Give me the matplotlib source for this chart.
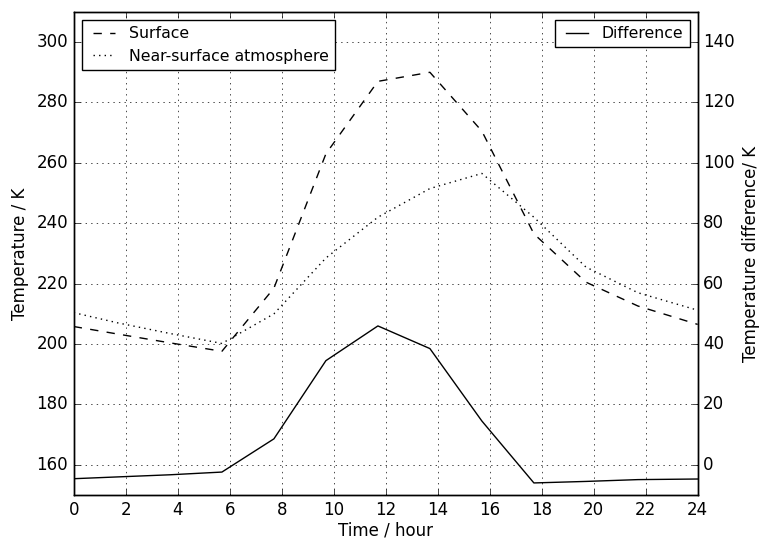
"""Surface and near-surface temperatures over one day, with their difference."""

import matplotlib
matplotlib.use("Agg")
import matplotlib.pyplot as plt

plt.style.use("classic")

# Values
hours = [0, 1.7, 3.7, 5.7, 7.7, 9.7, 11.7, 13.7, 15.7, 17.7, 19.7, 21.7, 24]
surface = [205.8, 203.3, 200.4, 197.6, 218.5, 263.0, 287.0, 290.0, 270.5, 236.5, 220.5, 212.6, 206.5]
atmosphere = [210.4, 207.0, 203.5, 200.2, 210.0, 228.5, 242.0, 251.5, 256.5, 242.0, 225.5, 217.0, 211.2]
difference = [-4.6, -4.0, -3.3, -2.4, 8.6, 34.5, 46.0, 38.5, 14.5, -6.0, -5.5, -4.9, -4.7]


def plot():
    """Create plot."""
    fig = plt.figure(figsize=(7.6, 5.41), dpi=100, facecolor="white")
    ax = fig.add_axes([0.097, 0.085, 0.821, 0.893])

    ax.plot(hours, surface, "k--", label="Surface")
    ax.plot(hours, atmosphere, "k:", label="Near-surface atmosphere")
    ax.set_xlim(0, 24)
    ax.set_ylim(150, 310)
    ax.set_xticks(range(0, 25, 2))
    ax.set_yticks(range(160, 301, 20))
    ax.set_xlabel("Time / hour", labelpad=2)
    ax.set_ylabel("Temperature / K")
    ax.grid(True, color="k", linestyle=":")
    ax.legend(loc="upper left", fontsize=11.3, handlelength=2.0, handletextpad=0.6)

    ax2 = ax.twinx()
    ax2.plot(hours, difference, "k-", label="Difference")
    ax2.set_ylim(-10, 150)
    ax2.set_yticks(range(0, 141, 20))
    ax2.set_ylabel("Temperature difference/ K")
    ax2.legend(loc="upper right", fontsize=11.3, handlelength=2.0, handletextpad=0.6)

    fig.savefig("out.png", dpi=100, facecolor="white")


if __name__ == "__main__":
    plot()
